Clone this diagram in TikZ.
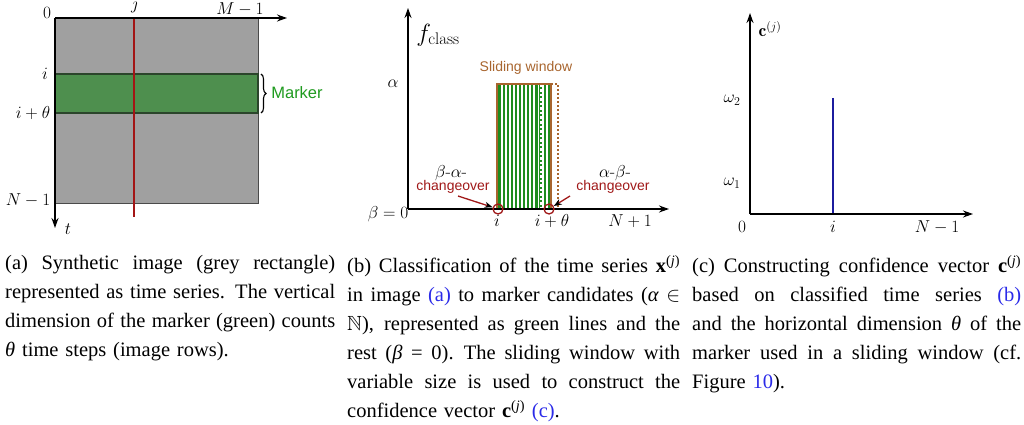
\documentclass[tikz,border=0pt]{standalone}
\usepackage{fontspec}
\usepackage{amssymb}
\newfontfamily\capfont{Liberation Serif}
\newfontfamily\labfont{Liberation Sans}
\usetikzlibrary{arrows.meta,decorations.pathreplacing}
\definecolor{imggray}{HTML}{A0A0A0}
\definecolor{imgedge}{HTML}{4A4A4A}
\definecolor{markergreen}{HTML}{4E8F4E}
\definecolor{markeredge}{HTML}{2B452B}
\definecolor{redline}{HTML}{A31515}
\definecolor{stripegreen}{HTML}{1E8C1E}
\definecolor{winbrown}{HTML}{A8652E}
\definecolor{darkred}{HTML}{A01818}
\definecolor{blueline}{HTML}{1C1C9E}
\definecolor{linkblue}{HTML}{2A2AE8}
\definecolor{textgreen}{HTML}{1E9A1E}
\tikzset{
  axisarrow/.style={line width=1.4pt, -{Stealth[length=10pt,width=7pt]}},
  mlabA/.style={inner sep=0pt, font=\fontsize{16}{18}\selectfont},
  mlabB/.style={inner sep=0pt, font=\fontsize{17.5}{20}\selectfont},
  sanslab/.style={inner sep=0pt, font=\labfont\fontsize{14}{16}\selectfont},
  captext/.style={inner sep=0pt, anchor=north west, align=left,
    font=\capfont\fontsize{20.5}{29}\selectfont},
  stripe/.style={stripegreen, line width=2.2pt},
  changecirc/.style={circle, draw=darkred, line width=1.3pt, minimum size=10pt, inner sep=0pt},
  pointer/.style={darkred, line width=1.3pt, -{Stealth[length=8pt,width=6pt,black]}},
}
\newcommand{\capline}[2]{\noindent\hbox to #1{\spaceskip=0.25em plus 0.5em minus 0.08em\relax #2}\par}
\newcommand{\caplast}[2]{\noindent\hbox to #1{#2\hfil}\par}
\begin{document}
\begin{tikzpicture}[x=1pt,y=-1pt]
\useasboundingbox (0,0) rectangle (1024,425);

% ---------------- panel (a)
\fill[imggray] (55,18) rectangle (258,203);
\draw[imgedge, line width=0.8pt] (55,18) rectangle (258,203);
\filldraw[fill=markergreen, draw=markeredge, line width=1.4pt] (55,74) rectangle (258,113);
\coordinate (aO) at (55,18);
\coordinate (aX) at (287,18);
\coordinate (aY) at (55,228);
\coordinate (rTop) at (134,18);
\coordinate (rBot) at (134,217);
\draw[redline, line width=1.5pt] (rTop) -- (rBot);
\draw[axisarrow] (aO) -- (aX);
\draw[axisarrow] (aO) -- (aY);
\node[mlabA] (a0) at (47,13) {$0$};
\node[mlabA] (aj) at (135,6) {$j$};
\node[mlabA] (aM) at (240,9) {$M-1$};
\node[mlabA] (ai) at (45,74) {$i$};
\node[mlabA] (ait) at (33,113) {$i+\theta$};
\node[mlabA] (aN) at (28,200) {$N-1$};
\node[mlabA] (at) at (68,229) {$t$};
\coordinate (brTop) at (261,74);
\coordinate (brBot) at (261,113);
\draw[line width=1.1pt, decorate, decoration={brace, amplitude=5pt}] (brTop) -- (brBot);
\node[inner sep=0pt, font=\labfont\fontsize{16.5}{18}\selectfont, text=textgreen] (marker) at (297,93) {Marker};

% ---------------- panel (b)
\foreach \k in {0,...,12} {
  \draw[stripe] (499.5+4.1*\k,85) -- (499.5+4.1*\k,209);
}
\draw[white, line width=1.2pt, dash pattern=on 2.5pt off 2pt] (541,85) -- (541,209);
\draw[winbrown, line width=1.6pt, dash pattern=on 2pt off 2pt] (551,84) -- (558,84) -- (558,209);
\draw[winbrown, line width=1.1pt] (497,209) -- (497,84) -- (551,84) -- (551,209);
\draw[winbrown, line width=2pt] (497,84) -- (551,84);
\coordinate (bO) at (408,209);
\coordinate (bX) at (669,209);
\coordinate (bY) at (408,8);
\draw[axisarrow] (bO) -- (bX);
\draw[axisarrow] (bO) -- (bY);
\node[inner sep=0pt, font=\fontsize{24}{26}\selectfont] (fcl) at (438,35) {$f_{\mathrm{class}}$};
\node[mlabB] (balpha) at (393,84) {$\alpha$};
\node[mlabB] (bbeta) at (388,214) {$\beta=0$};
\node[mlabB] (bi) at (497,221) {$i$};
\node[mlabB] (bit) at (552,221) {$i+\theta$};
\node[mlabB] (bN) at (630,221) {$N+1$};
\node[sanslab, text=winbrown] (slw) at (526,68) {Sliding window};
\node[mlabB] (ba) at (451,173) {$\beta$-$\alpha$-};
\node[sanslab, text=darkred] (chL) at (453,187) {changeover};
\node[mlabB] (ab) at (615,173) {$\alpha$-$\beta$-};
\node[sanslab, text=darkred] (chR) at (613,187) {changeover};
\node[changecirc] (cL) at (498,209) {};
\node[changecirc] (cR) at (549,209) {};
\coordinate (pL) at (458,196);
\coordinate (pR) at (570,196);
\draw[pointer] (pL) -- (cL);
\draw[pointer] (pR) -- (cR);

% ---------------- panel (c)
\coordinate (cO) at (750,214);
\coordinate (cX) at (973,214);
\coordinate (cY) at (750,13);
\coordinate (vTop) at (833,98);
\coordinate (vBot) at (833,214);
\draw[blueline, line width=1.6pt] (vTop) -- (vBot);
\draw[axisarrow] (cO) -- (cX);
\draw[axisarrow] (cO) -- (cY);
\node[mlabB] (cc) at (770,29) {$\mathbf{c}^{(j)}$};
\node[mlabB] (cw2) at (732,100) {$\omega_2$};
\node[mlabB] (cw1) at (732,183) {$\omega_1$};
\node[mlabB] (c0) at (742,227) {$0$};
\node[mlabB] (ci) at (833,227) {$i$};
\node[mlabB] (cN) at (937,227) {$N-1$};

% ---------------- captions
\node[captext, text width=330pt] (capA) at (5,255) {%
\capline{330pt}{(a) Synthetic image (grey rectangle)}%
\capline{330pt}{represented as time series. The vertical}%
\capline{330pt}{dimension of the marker (green) counts}%
\caplast{330pt}{\textit{θ} time steps (image rows).}};
\node[captext, text width=333pt] (capB) at (347,255) {%
\capline{333pt}{(b) Classification of the time series \textbf{x}\textsuperscript{(\textit{j})}}%
\capline{333pt}{in image \textcolor{linkblue}{(a)} to marker candidates (\textit{α} $\in$}%
\capline{333pt}{$\mathbb{N}$), represented as green lines and the}%
\capline{333pt}{rest (\textit{β} = 0). The sliding window with}%
\capline{333pt}{variable size is used to construct the}%
\caplast{333pt}{confidence vector \textbf{c}\textsuperscript{(\textit{j})} \textcolor{linkblue}{(c)}.}};
\node[captext, text width=329pt] (capC) at (692,255) {%
\capline{329pt}{(c) Constructing confidence vector \textbf{c}\textsuperscript{(\textit{j})}}%
\capline{329pt}{based on classified time series \textcolor{linkblue}{(b)}}%
\capline{329pt}{and the horizontal dimension \textit{θ} of the}%
\capline{329pt}{marker used in a sliding window (cf.}%
\caplast{329pt}{Figure \textcolor{linkblue}{10}).}};
\end{tikzpicture}
\end{document}
